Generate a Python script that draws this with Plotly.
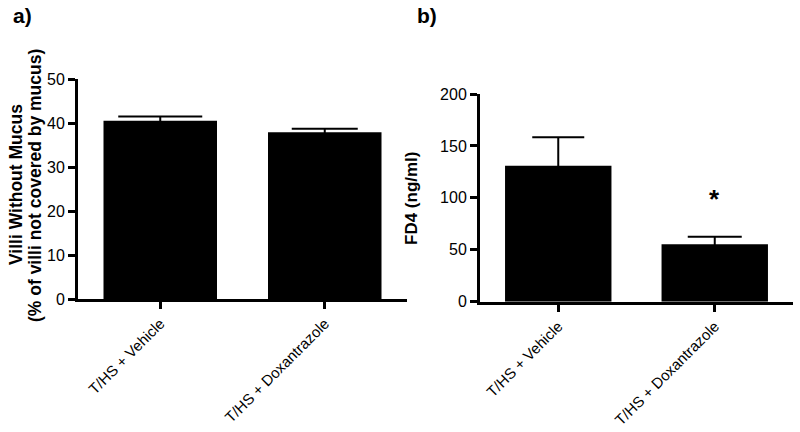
import plotly.graph_objects as go

categories = ["T/HS + Vehicle", "T/HS + Doxantrazole"]
villi_values = [40.5, 37.9]
villi_errors = [1.0, 0.8]
fd4_values = [130.8, 55.2]
fd4_errors = [27.6, 7.3]
villi_ticks = [0, 10, 20, 30, 40, 50]
fd4_ticks = [0, 50, 100, 150, 200]

FONT = "Arial, Liberation Sans, sans-serif"
fig = go.Figure()

cap_a = [42, 33]
cap_b = [26, 27]
for i, c in enumerate(categories):
    fig.add_trace(go.Bar(
        x=[c], y=[villi_values[i]], width=0.69, marker=dict(color="black", line=dict(width=0)),
        error_y=dict(type="data", symmetric=True, array=[villi_errors[i]],
                     color="black", thickness=2, width=cap_a[i]),
        xaxis="x", yaxis="y", showlegend=False))
    fig.add_trace(go.Bar(
        x=[c], y=[fd4_values[i]], width=0.68, marker=dict(color="black", line=dict(width=0)),
        error_y=dict(type="data", symmetric=True, array=[fd4_errors[i]],
                     color="black", thickness=2, width=cap_b[i]),
        xaxis="x2", yaxis="y2", showlegend=False))

axis_common = dict(showline=True, linecolor="black", linewidth=3, ticks="outside",
                   tickwidth=3, ticklen=7, tickcolor="black", showgrid=False, zeroline=False,
                   automargin=False)
yfont = dict(family=FONT, size=16, color="black")
xfont = dict(family=FONT, size=15, color="black")

fig.update_layout(
    width=800, height=432, margin=dict(l=0, r=0, t=0, b=0),
    paper_bgcolor="white", plot_bgcolor="white", barmode="overlay",
    xaxis=dict(domain=[78/800, 407/800], anchor="y", type="category",
               categoryorder="array", categoryarray=categories, range=[-0.5, 1.5],
               tickangle=-45, tickfont=xfont, **axis_common),
    yaxis=dict(domain=[1-299/432, 1-79/432], anchor="x", range=[0, 50],
               tickvals=villi_ticks, tickfont=yfont, **axis_common),
    xaxis2=dict(domain=[480/800, 793/800], anchor="y2", type="category",
                categoryorder="array", categoryarray=categories, range=[-0.5, 1.5],
                tickangle=-45, tickfont=xfont, **axis_common),
    yaxis2=dict(domain=[1-301.7/432, 1-94/432], anchor="x2", range=[0, 200],
                tickvals=fd4_ticks, tickfont=yfont, **axis_common),
    annotations=[
        dict(text="<b>a)</b>", x=11/800, y=1-16/432, xref="paper", yref="paper",
             xanchor="left", yanchor="middle", showarrow=False,
             font=dict(family=FONT, size=21, color="black")),
        dict(text="<b>b)</b>", x=415/800, y=1-16/432, xref="paper", yref="paper",
             xanchor="left", yanchor="middle", showarrow=False,
             font=dict(family=FONT, size=21, color="black")),
        dict(text="<b>Villi Without Mucus</b>", x=16/800, y=1-185/432, xref="paper", yref="paper",
             xanchor="center", yanchor="middle", textangle=-90, showarrow=False,
             font=dict(family=FONT, size=17.5, color="black")),
        dict(text="<b>(% of villi not covered by mucus)</b>", x=35/800, y=1-186/432, xref="paper", yref="paper",
             xanchor="center", yanchor="middle", textangle=-90, showarrow=False,
             font=dict(family=FONT, size=17.5, color="black")),
        dict(text="<b>FD4 (ng/ml)</b>", x=412/800, y=1-198/432, xref="paper", yref="paper",
             xanchor="center", yanchor="middle", textangle=-90, showarrow=False,
             font=dict(family=FONT, size=17, color="black")),
        dict(text="<b>*</b>", x=categories[1], y=fd4_values[1] + fd4_errors[1] + 36,
             xref="x2", yref="y2", xanchor="center", yanchor="middle", showarrow=False,
             font=dict(family=FONT, size=26, color="black")),
    ],
)

fig.write_html("out.html", config={"displayModeBar": False},
               post_script="document.body.style.margin='0';")
